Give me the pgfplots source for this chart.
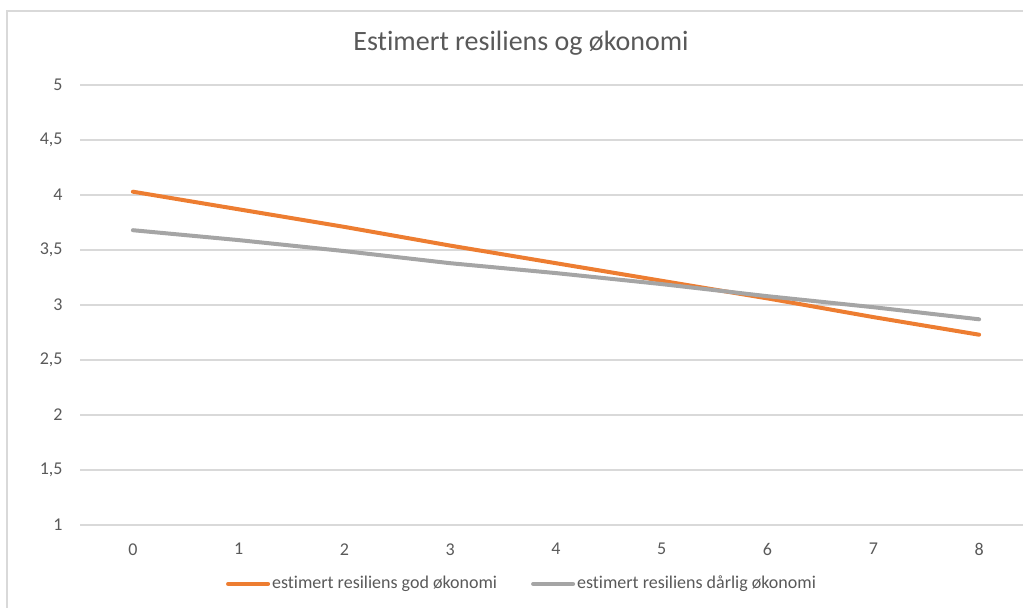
\documentclass[border=0pt]{standalone}
\usepackage{fontspec}
\setmainfont{Carlito}[Ligatures=NoCommon]
\usepackage{pgfplots}
\pgfplotsset{compat=1.18}

\definecolor{txt}{HTML}{595959}
\definecolor{gridc}{HTML}{D9D9D9}
\definecolor{orange}{HTML}{ED7D31}
\definecolor{grey}{HTML}{A5A5A5}

\begin{document}
\begin{tikzpicture}
% one reference pixel = 0.5pt, origin at top left
\useasboundingbox (0,0) rectangle (511.5pt,-304pt);
\draw[gridc, line width=0.75pt] (3.5pt,-400pt) -- (3.5pt,-5.5pt) -- (600pt,-5.5pt);
\node[anchor=base, font=\fontsize{14}{16}\selectfont, text=txt, inner sep=0pt]
    at (260.5pt,-25.5pt) {Estimert resiliens og økonomi};

\begin{axis}[
    at={(40pt,-262.5pt)}, anchor=south west,
    scale only axis,
    width=476pt, height=220pt,
    xmin=-0.5, xmax=8.5,
    ymin=1, ymax=5,
    xtick={0,...,8},
    ytick={1,1.5,...,5},
    axis line style={draw=none},
    axis x line*=bottom, axis y line*=left,
    major tick length=0pt,
    xmajorgrids=false,
    ymajorgrids=true,
    major grid style={draw=gridc, line width=0.75pt},
    tick label style={font=\fontsize{9}{11}\selectfont, text=txt},
    /pgf/number format/assume math mode=true,
    /pgf/number format/use comma,
    yticklabel style={anchor=east, inner sep=0pt, xshift=-8.5pt},
    xticklabel style={anchor=north, inner sep=0pt, yshift=-9pt},
    legend columns=2,
    legend style={at={(0.4643,-0.134)}, anchor=center, draw=none, fill=none,
        font=\fontsize{9}{11}\selectfont, text=txt,
        nodes={inner sep=1pt},
        /tikz/every even column/.append style={column sep=16pt}},
    legend image code/.code={\draw[#1] (0pt,0pt) -- (20pt,0pt);},
    clip=false,
]
\addplot[orange, line width=2pt, line cap=round, line join=round] coordinates {
    (0,4.03) (1,3.87) (2,3.71) (3,3.54) (4,3.38)
    (5,3.22) (6,3.06) (7,2.89) (8,2.73)
};
\addplot[grey, line width=2pt, line cap=round, line join=round] coordinates {
    (0,3.68) (1,3.59) (2,3.49) (3,3.38) (4,3.29)
    (5,3.19) (6,3.08) (7,2.98) (8,2.87)
};
\draw[gridc, line width=0.75pt] (axis cs:-0.5,1) -- (axis cs:8.5,1);
\legend{estimert resiliens god økonomi, estimert resiliens dårlig økonomi}
\end{axis}
\end{tikzpicture}
\end{document}
